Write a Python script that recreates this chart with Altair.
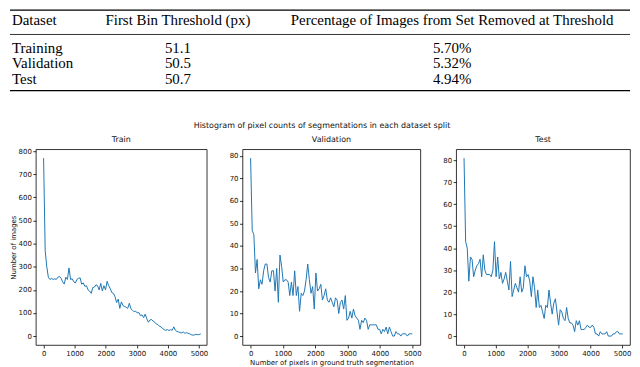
import altair as alt
import pandas as pd

FONT = "DejaVu Sans"
SERIF = "Liberation Serif"
LINE_COLOR = "#1f77b4"

# ---------------- table data ----------------
table_headers = ["Dataset", "First Bin Threshold (px)",
                 "Percentage of Images from Set Removed at Threshold"]
table_datasets = ["Training", "Validation", "Test"]
table_thresholds = ["51.1", "50.5", "50.7"]
table_removed = ["5.70%", "5.32%", "4.94%"]

# ---------------- histogram data ----------------
suptitle = "Histogram of pixel counts of segmentations in each dataset split"
panel_names = ["Train", "Validation", "Test"]
bin_widths = [51.1, 50.5, 50.7]

train_counts = [
    770, 370, 300, 255, 245, 250, 245, 248, 245, 255,
    258, 250, 235, 225, 255, 245, 295, 245, 248, 235,
    230, 245, 250, 252, 225, 230, 215, 218, 200, 195,
    185, 210, 212, 222, 218, 200, 228, 195, 218, 200,
    237, 218, 205, 188, 185, 170, 145, 160, 120, 148,
    132, 128, 125, 120, 142, 118, 112, 105, 108, 100,
    102, 88, 92, 80, 95, 75, 60, 70, 72, 65,
    60, 52, 50, 42, 40, 32, 28, 25, 28, 24,
    28, 25, 40, 25, 20, 18, 15, 14, 18, 12,
    15, 12, 10, 6, 4, 5, 8, 6, 7, 10,
]
val_counts = [
    79, 47, 45, 28, 34, 21, 25, 23, 29, 32,
    32, 26, 24, 29, 29, 20, 30, 15, 36, 31,
    24, 25, 25, 24, 18, 24, 18, 29, 18, 22,
    11, 19, 18, 20, 25, 32, 25, 19, 22, 12,
    28, 20, 21, 23, 16, 18, 21, 16, 15, 17,
    15, 13, 17, 16, 10, 15, 16, 12, 18, 7,
    8, 11, 8, 12, 9, 8, 7, 3, 7, 6,
    8, 7, 3, 5, 5, 5, 5, 5, 3, 3,
    1, 3, 2, 4, 1, 4, 2, 0, 0, 2,
    1, 1, 0, 1, 1, 1, 0, 1, 1, 1,
]
test_counts = [
    81, 43, 40, 25, 36, 35, 27, 30, 32, 33,
    35, 27, 37, 30, 28, 28, 28, 27, 30, 43,
    27, 36, 26, 29, 24, 26, 29, 25, 21, 34,
    18, 21, 24, 22, 20, 27, 20, 22, 32, 27,
    28, 25, 18, 27, 22, 13, 21, 13, 14, 11,
    8, 14, 13, 21, 15, 10, 15, 17, 11, 5,
    12, 11, 8, 7, 13, 8, 6, 6, 5, 2,
    7, 5, 7, 3, 3, 3, 4, 5, 4, 4,
    5, 4, 1, 1, 0, 2, 1, 1, 1, 2,
    0, 0, 0, 1, 1, 2, 2, 1, 1, 1,
]

x_ticks = [0, 1000, 2000, 3000, 4000, 5000]
train_y_ticks = [0, 100, 200, 300, 400, 500, 600, 700, 800]
small_y_ticks = [0, 10, 20, 30, 40, 50, 60, 70, 80]

H = 197
WIDTHS = [172, 179, 175]
SPACING = 36


def one_row(text):
    return pd.DataFrame({"t": [text]})


def line_panel(counts, bw, ydom, yticks, width, name, ytitle=None, xtitle=None):
    df = pd.DataFrame({"pixels": [i * bw for i in range(len(counts))],
                       "count": counts})
    x_axis = alt.Axis(values=x_ticks, format="d", title=xtitle)
    y_axis = alt.Axis(values=yticks, format="d", title=ytitle)
    line = alt.Chart(df).mark_line(color=LINE_COLOR, strokeWidth=1).encode(
        x=alt.X("pixels:Q", scale=alt.Scale(domain=[-250, 5250], nice=False, zero=False),
                axis=x_axis),
        y=alt.Y("count:Q", scale=alt.Scale(domain=ydom, nice=False, zero=False),
                axis=y_axis),
    )
    sub = alt.Chart(one_row(name)).mark_text(
        font=FONT, fontSize=8, align="center", baseline="middle", color="#111"
    ).encode(text="t:N", x=alt.value(width / 2), y=alt.value(-9.6))
    return [line, sub]


# Train panel with the table and suptitle drawn above it
train_layers = line_panel(train_counts, bin_widths[0], [-38.5, 808.5], train_y_ticks,
                          WIDTHS[0], panel_names[0], ytitle="Number of images")

L, R = -26, 598


def rule(y, w):
    return alt.Chart(one_row("r")).mark_rule(color="black", strokeWidth=w).encode(
        x=alt.value(L), x2=alt.value(R), y=alt.value(y))


def ttext(text, x, y, align):
    return alt.Chart(one_row(text)).mark_text(
        font=SERIF, fontSize=15, align=align, baseline="alphabetic",
        lineBreak="\n", lineHeight=15.5, color="black"
    ).encode(text="t:N", x=alt.value(x), y=alt.value(y))


COL1, COL2, COL3 = -24, 143, 419
HEAD_Y, ROW_Y = -125, -97
table_layers = [
    rule(-140, 1.2), rule(-115.5, 0.8), rule(-59, 1.2),
    ttext(table_headers[0], COL1, HEAD_Y, "left"),
    ttext(table_headers[1], COL2, HEAD_Y, "center"),
    ttext(table_headers[2], COL3, HEAD_Y, "center"),
    ttext("\n".join(table_datasets), COL1, ROW_Y, "left"),
    ttext("\n".join(table_thresholds), COL2, ROW_Y, "center"),
    ttext("\n".join(table_removed), COL3, ROW_Y, "center"),
]
sup = alt.Chart(one_row(suptitle)).mark_text(
    font=FONT, fontSize=8, align="center", baseline="middle", color="#111"
).encode(text="t:N", x=alt.value(288), y=alt.value(-23.6))

train = alt.layer(*train_layers, *table_layers, sup).properties(width=WIDTHS[0], height=H)

val = alt.layer(*line_panel(val_counts, bin_widths[1], [-3.95, 82.95], small_y_ticks,
                            WIDTHS[1], panel_names[1],
                            xtitle="Number of pixels in ground truth segmentation")
                ).properties(width=WIDTHS[1], height=H)

test = alt.layer(*line_panel(test_counts, bin_widths[2], [-4.05, 85.05], small_y_ticks,
                             WIDTHS[2], panel_names[2])
                 ).properties(width=WIDTHS[2], height=H)

chart = alt.hconcat(train, val, test, spacing=SPACING, bounds="flush").properties(
    padding=0, background="white"
).configure_view(
    stroke="black", strokeWidth=0.8
).configure_axis(
    grid=False, domain=False,
    labelFont=FONT, labelFontSize=7, labelColor="#111", labelPadding=1.5,
    tickSize=3, tickWidth=0.8, tickColor="black",
    titleFont=FONT, titleFontSize=7, titleFontWeight="normal", titleColor="#111",
    titlePadding=2,
)

chart.save("out.html", embed_options={"renderer": "svg", "actions": False})
